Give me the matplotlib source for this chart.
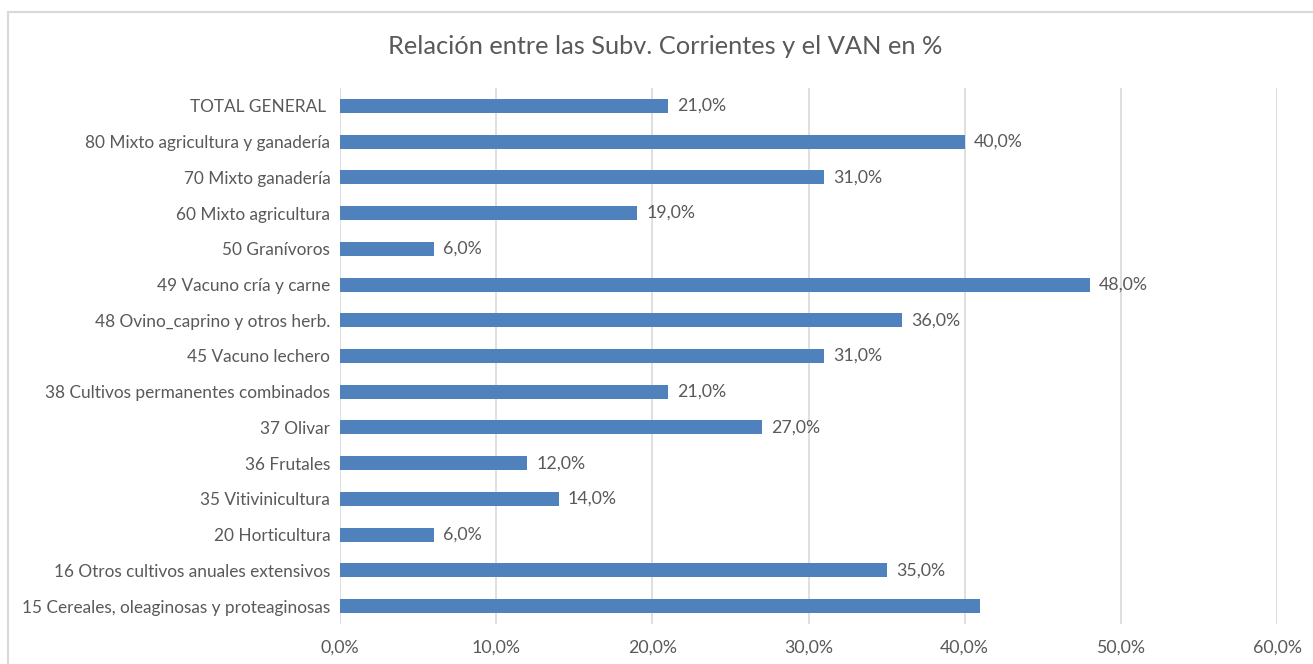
import matplotlib.pyplot as plt
from matplotlib.patches import Rectangle

plt.rcParams['font.family'] = ['Lato', 'DejaVu Sans']

# Categories from top to bottom as shown in the chart
categories = ['TOTAL GENERAL ',
              '80 Mixto agricultura y ganadería',
              '70 Mixto ganadería',
              '60 Mixto agricultura',
              '50 Granívoros',
              '49 Vacuno cría y carne',
              '48 Ovino_caprino y otros herb.',
              '45 Vacuno lechero',
              '38 Cultivos permanentes combinados',
              '37 Olivar',
              '36 Frutales',
              '35 Vitivinicultura',
              '20 Horticultura',
              '16 Otros cultivos anuales extensivos',
              '15 Cereales, oleaginosas y proteaginosas']
values = [21, 40, 31, 19, 6, 48, 36, 31, 21, 27, 12, 14, 6, 35, 41]
# the last bar has no data label in the original
show_label = [True] * 14 + [False]
xticks = [0, 10, 20, 30, 40, 50, 60]

text_col = '#595959'
bar_col = '#4F81BD'
grid_col = '#D9D9D9'


def pct(v):
    return ('%.1f%%' % v).replace('.', ',')


fig = plt.figure(figsize=(13.13, 6.64), dpi=100)
# chart frame, only the top and left edges are inside the picture
fig.patches.append(Rectangle((8 / 1313, -0.1), 1.1, 1.1 - 12 / 664, transform=fig.transFigure,
                             fill=False, edgecolor=grid_col, linewidth=1.5))
ax = fig.add_axes([340 / 1313, 40 / 664, (1277 - 340) / 1313, (624 - 88) / 664])

pos = list(range(len(categories)))
ax.barh(pos, values, height=0.39, color=bar_col, zorder=3)
for p, v, s in zip(pos, values, show_label):
    if s:
        ax.text(v + 0.6, p, pct(v), va='center', ha='left', fontsize=12.8, color=text_col)

ax.set_ylim(len(categories) - 0.5, -0.5)
ax.set_xlim(0, 60)
ax.set_yticks(pos)
ax.set_yticklabels(categories, fontsize=12.4, color=text_col)
ax.set_xticks(xticks)
ax.set_xticklabels([pct(t) for t in xticks], fontsize=12.8, color=text_col)
ax.tick_params(length=0)
ax.tick_params(axis='x', pad=11)
ax.tick_params(axis='y', pad=7)
ax.grid(axis='x', color=grid_col, linewidth=1.2, zorder=0)
for s in ax.spines.values():
    s.set_visible(False)

fig.text(665 / 1313, 1 - 47 / 664, 'Relación entre las Subv. Corrientes y el VAN en %',
         ha='center', va='center', fontsize=18.3, color=text_col)

fig.savefig('out.png', dpi=100)
